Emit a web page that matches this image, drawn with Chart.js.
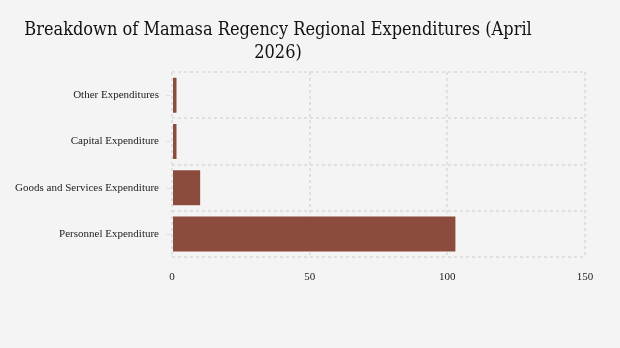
<!DOCTYPE html>
<html>
<head>
<meta charset="utf-8">
<script src="https://cdn.jsdelivr.net/npm/chart.js@4"></script>
<style>
  html, body { margin: 0; padding: 0; background: #f4f4f4; }
  #wrap { position: relative; width: 620px; height: 348px; }
  #title { position: absolute; left: 0; top: 17px; width: 556px; text-align: center;
           font-family: "DejaVu Serif Condensed", "DejaVu Serif", serif; font-size: 18px; line-height: 23px; color: #111; }
  canvas { position: absolute; left: 0; top: 0; }
</style>
</head>
<body>
<div id="wrap">
  <canvas id="c" width="620" height="348"></canvas>
  <div id="title">Breakdown of Mamasa Regency Regional Expenditures (April<br>2026)</div>
</div>
<script>
const categories = ["Other Expenditures", "Capital Expenditure", "Goods and Services Expenditure", "Personnel Expenditure"];
const values = [2.0, 2.0, 10.6, 103.3];
const xTicks = [0, 50, 100, 150];

const gridCol = "#e0e0e0";

const yTickMarks = {
  id: "yTickMarks",
  afterDraw(chart) {
    const y = chart.scales.y, ctx = chart.ctx;
    ctx.save();
    ctx.strokeStyle = gridCol;
    ctx.lineWidth = 1;
    y.ticks.forEach((t, i) => {
      const py = Math.round(y.getPixelForTick(i)) + 0.5;
      ctx.beginPath();
      ctx.moveTo(y.right - 6, py);
      ctx.lineTo(y.right - 1, py);
      ctx.stroke();
    });
    ctx.restore();
  }
};

new Chart(document.getElementById("c"), {
  type: "bar",
  data: {
    labels: categories,
    datasets: [{
      data: values,
      backgroundColor: "#8b4b3d",
      borderColor: "rgba(255,255,255,0.55)",
      borderWidth: 1,
      barPercentage: 1.0,
      categoryPercentage: 0.8
    }]
  },
  options: {
    indexAxis: "y",
    responsive: false,
    animation: false,
    layout: { padding: { left: 10, right: 35, top: 72, bottom: 0 } },
    plugins: { legend: { display: false }, tooltip: { enabled: false }, title: { display: false } },
    scales: {
      x: {
        min: 0, max: 150,
        afterBuildTicks: s => { s.ticks = xTicks.map(v => ({ value: v })); },
        afterFit: s => { s.height = 91; },
        grid: { color: gridCol, lineWidth: 2, drawTicks: false },
        border: { display: false, dash: [3, 3] },
        ticks: { color: "#222", padding: 14, font: { family: "Liberation Serif", size: 11 } }
      },
      y: {
        afterFit: s => { s.width = 162; },
        grid: { color: gridCol, lineWidth: 2, drawTicks: false, offset: true },
        border: { display: false, dash: [3, 3] },
        ticks: { color: "#222", padding: 13, font: { family: "Liberation Serif", size: 11 } }
      }
    }
  },
  plugins: [yTickMarks]
});
</script>
</body>
</html>
